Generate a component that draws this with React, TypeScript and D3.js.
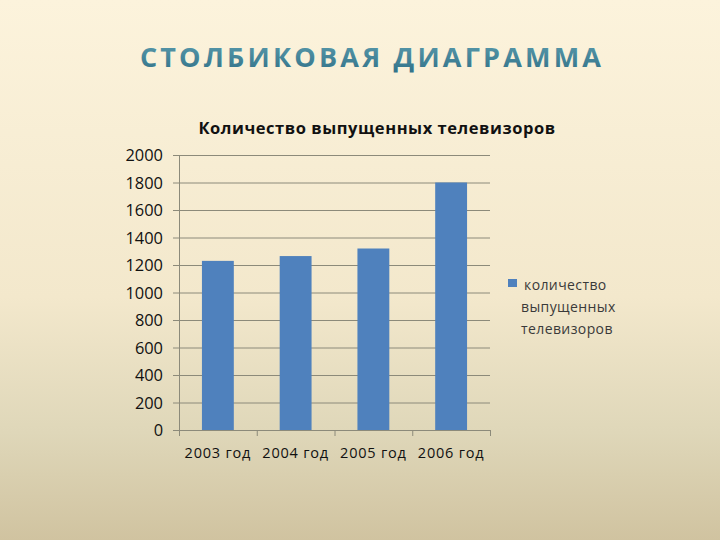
import * as d3 from "d3";
import React, { useEffect, useRef } from "react";

const years = ["2003 год", "2004 год", "2005 год", "2006 год"];
const produced = [1230, 1265, 1320, 1800];
const yTicks = [0, 200, 400, 600, 800, 1000, 1200, 1400, 1600, 1800, 2000];
const legendLines = ["количество", "выпущенных", "телевизоров"];

const W = 720;
const H = 540;

const App: React.FC = () => {
  const svgRef = useRef<SVGSVGElement | null>(null);

  useEffect(() => {
    const svg = d3.select(svgRef.current);
    svg.selectAll("*").remove();

    const margin = { top: 155, right: 230, bottom: 110, left: 179 };
    const font = "Open Sans, sans-serif";

    // фон и градиенты
    const defs = svg.append("defs");
    const bg = defs
      .append("linearGradient")
      .attr("id", "bg")
      .attr("x1", 0)
      .attr("y1", 0)
      .attr("x2", 0)
      .attr("y2", 1);
    bg.append("stop").attr("offset", "0%").attr("stop-color", "#fcf3dc");
    bg.append("stop").attr("offset", "55%").attr("stop-color", "#f3e8cc");
    bg.append("stop").attr("offset", "80%").attr("stop-color", "#dfd7b9");
    bg.append("stop").attr("offset", "100%").attr("stop-color", "#d0c3a0");

    const tg = defs
      .append("linearGradient")
      .attr("id", "titleGrad")
      .attr("x1", 0)
      .attr("y1", 0)
      .attr("x2", 0)
      .attr("y2", 1);
    tg.append("stop").attr("offset", "0%").attr("stop-color", "#5e9fb0");
    tg.append("stop").attr("offset", "100%").attr("stop-color", "#2f6f86");

    svg.append("rect").attr("width", W).attr("height", H).attr("fill", "url(#bg)");

    svg
      .append("text")
      .attr("x", 372)
      .attr("y", 67)
      .attr("text-anchor", "middle")
      .attr("font-family", font)
      .attr("font-weight", 700)
      .attr("font-size", 27)
      .attr("letter-spacing", 3.2)
      .attr("fill", "url(#titleGrad)")
      .text("СТОЛБИКОВАЯ ДИАГРАММА");

    svg
      .append("text")
      .attr("x", 377)
      .attr("y", 134)
      .attr("text-anchor", "middle")
      .attr("font-family", font)
      .attr("font-weight", 700)
      .attr("font-size", 16.5)
      .attr("letter-spacing", 0.55)
      .attr("fill", "#111")
      .text("Количество выпущенных телевизоров");

    const plotRight = 490;
    const x0 = margin.left;

    const x = d3
      .scaleBand<string>()
      .domain(years)
      .range([x0, plotRight])
      .paddingInner(0.59)
      .paddingOuter(0.295);

    const y = d3
      .scaleLinear()
      .domain([0, 2000])
      .range([H - margin.bottom, margin.top]);

    // сетка
    svg
      .append("g")
      .selectAll("line")
      .data(yTicks)
      .join("line")
      .attr("x1", x0 - 6)
      .attr("x2", plotRight)
      .attr("y1", (d) => y(d) + 0.5)
      .attr("y2", (d) => y(d) + 0.5)
      .attr("stroke", "#8c8a7a")
      .attr("stroke-width", 1);

    svg
      .append("line")
      .attr("x1", x0 + 0.5)
      .attr("x2", x0 + 0.5)
      .attr("y1", y(2000))
      .attr("y2", y(0) + 6)
      .attr("stroke", "#8c8a7a");

    // подписи оси Y
    svg
      .append("g")
      .selectAll("text")
      .data(yTicks)
      .join("text")
      .attr("x", x0 - 16)
      .attr("y", (d) => y(d) + 6)
      .attr("text-anchor", "end")
      .attr("font-family", font)
      .attr("font-size", 16.4)
      .attr("fill", "#111")
      .text((d) => d);

    // деления оси X
    const bounds = d3
      .range(years.length + 1)
      .map((i) => x0 + i * ((plotRight - x0) / years.length));
    svg
      .append("g")
      .selectAll("line")
      .data(bounds)
      .join("line")
      .attr("x1", (d) => d + 0.5)
      .attr("x2", (d) => d + 0.5)
      .attr("y1", y(0))
      .attr("y2", y(0) + 6)
      .attr("stroke", "#8c8a7a");

    // столбцы
    svg
      .append("g")
      .selectAll("rect")
      .data(produced)
      .join("rect")
      .attr("x", (_, i) => x(years[i]) as number)
      .attr("width", x.bandwidth())
      .attr("y", (d) => y(d))
      .attr("height", (d) => y(0) - y(d))
      .attr("fill", "#4f81bd");

    // подписи оси X
    svg
      .append("g")
      .selectAll("text")
      .data(years)
      .join("text")
      .attr("x", (d) => (x(d) as number) + x.bandwidth() / 2)
      .attr("y", y(0) + 28)
      .attr("text-anchor", "middle")
      .attr("font-family", font)
      .attr("font-size", 14.5)
      .attr("letter-spacing", 0.8)
      .attr("fill", "#111")
      .text((d) => d);

    // легенда
    const lg = svg.append("g");
    lg.append("rect")
      .attr("x", 508)
      .attr("y", 279)
      .attr("width", 9)
      .attr("height", 8)
      .attr("fill", "#4f81bd");
    lg.selectAll("text")
      .data(legendLines)
      .join("text")
      .attr("x", (_, i) => (i === 0 ? 524 : 521))
      .attr("y", (_, i) => 290 + i * 22)
      .attr("font-family", font)
      .attr("font-size", 14)
      .attr("letter-spacing", 0.4)
      .attr("fill", "#3a3a3a")
      .text((d) => d);
  }, []);

  return (
    <svg
      ref={svgRef}
      width={W}
      height={H}
      style={{ position: "absolute", left: 0, top: 0, display: "block" }}
    ></svg>
  );
};

export default App;
